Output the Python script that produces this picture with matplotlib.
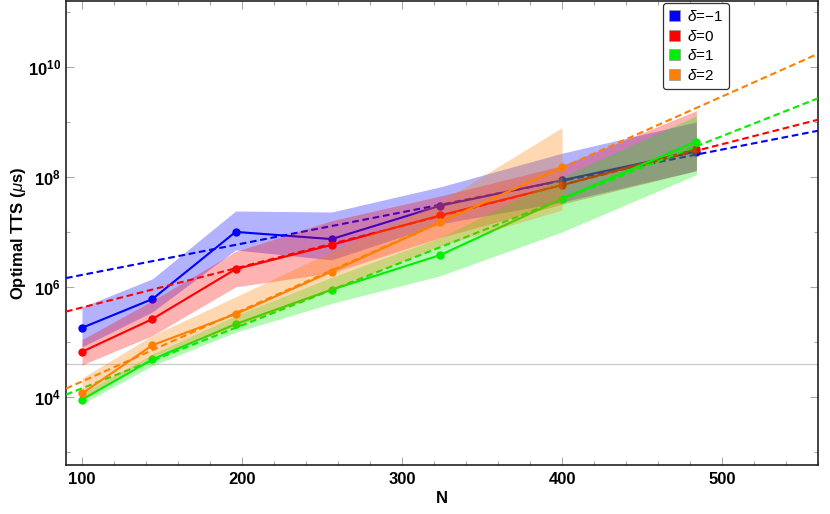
import matplotlib

matplotlib.use("Agg")
import matplotlib.pyplot as plt  # noqa: E402
import numpy as np  # noqa: E402
from matplotlib.patches import Patch  # noqa: E402
from matplotlib.ticker import FixedLocator, NullFormatter  # noqa: E402

plt.rcParams["font.family"] = ["Liberation Sans", "DejaVu Sans"]
plt.rcParams["mathtext.fontset"] = "custom"
plt.rcParams["mathtext.rm"] = "Liberation Sans"
plt.rcParams["mathtext.it"] = "Liberation Sans:italic"
plt.rcParams["mathtext.bf"] = "Liberation Sans:bold"

# размеры задачи N (квадраты 10..22)
n_sizes = [100, 144, 196, 256, 324, 400, 484]

# оптимальный TTS (мкс): медиана и границы полосы
tts_dm1 = [1.8e5, 6.0e5, 1.0e7, 7.4e6, 3.0e7, 8.7e7, 2.9e8]
tts_dm1_hi = [4.3e5, 1.4e6, 2.4e7, 2.3e7, 6.6e7, 2.7e8, 1.0e9]
tts_dm1_lo = [8.1e4, 3.5e5, 4.7e6, 3.1e6, 1.4e7, 3.5e7, 1.3e8]

tts_d0 = [6.6e4, 2.6e5, 2.1e6, 5.8e6, 2.0e7, 7.1e7, 3.2e8]
tts_d0_hi = [1.1e5, 5.6e5, 4.4e6, 1.6e7, 4.5e7, 1.6e8, 1.6e9]
tts_d0_lo = [3.8e4, 1.3e5, 1.0e6, 1.8e6, 7.9e6, 3.2e7, 1.3e8]

tts_d1 = [8.9e3, 4.8e4, 2.1e5, 8.9e5, 3.8e6, 4.0e7, 4.4e8]
tts_d1_hi = [1.15e4, 6.0e4, 3.0e5, 1.5e6, 7.9e6, 1.0e8, 1.3e9]
tts_d1_lo = [7.4e3, 3.7e4, 1.5e5, 5.0e5, 1.6e6, 1.0e7, 1.1e8]

# δ=2 — только до N=400
tts_d2 = [1.15e4, 8.7e4, 3.2e5, 1.9e6, 1.5e7, 1.5e8]
tts_d2_hi = [2.2e4, 1.3e5, 6.6e5, 4.4e6, 3.5e7, 7.9e8]
tts_d2_lo = [9.5e3, 5.4e4, 1.9e5, 8.7e5, 5.6e6, 2.5e7]

# экспоненциальные фиты: log10(TTS) = a + b*N
fit_a = [5.647, 4.882, 3.008, 2.984]
fit_b = [0.005702, 0.007426, 0.011468, 0.012957]

labels = [r"$\delta$=−1", r"$\delta$=0", r"$\delta$=1", r"$\delta$=2"]
colors = ["#0000ff", "#ff0000", "#00ee00", "#ff8000"]

series = [
    (n_sizes, tts_dm1, tts_dm1_lo, tts_dm1_hi),
    (n_sizes, tts_d0, tts_d0_lo, tts_d0_hi),
    (n_sizes, tts_d1, tts_d1_lo, tts_d1_hi),
    (n_sizes[:6], tts_d2, tts_d2_lo, tts_d2_hi),
]

fig = plt.figure(figsize=(8.3, 5.14), dpi=100)
ax = fig.add_axes([66 / 830, 1 - 465 / 514, (818 - 66) / 830, 464 / 514])

ax.axhline(3.9e4, color="#cccccc", lw=1.0, zorder=1)

n_fit = np.linspace(90, 560, 200)
for i, ((n, mid, lo, hi), c) in enumerate(zip(series, colors)):
    z = 2 + 3 * i
    ax.fill_between(n, lo, hi, color=c, alpha=0.3, lw=0, zorder=z)
    ax.plot(n, mid, color=c, lw=1.5, marker="o", ms=5, zorder=z + 1)
    ax.plot(n_fit, 10 ** (fit_a[i] + fit_b[i] * n_fit), color=c, lw=1.5,
            ls=(0, (3.2, 1.8)), zorder=z + 1)

ax.set_yscale("log")
ax.set_xlim(90, 560)
ax.set_ylim(10 ** 2.76, 10 ** 11.2)

ax.yaxis.set_major_locator(FixedLocator([1e4, 1e6, 1e8, 1e10]))
ax.yaxis.set_minor_locator(FixedLocator([1e3, 1e5, 1e7, 1e9, 1e11]))
ax.yaxis.set_minor_formatter(NullFormatter())
ax.set_yticklabels([r"$\mathbf{10^{4}}$", r"$\mathbf{10^{6}}$",
                    r"$\mathbf{10^{8}}$", r"$\mathbf{10^{10}}$"])
ax.xaxis.set_major_locator(FixedLocator([100, 200, 300, 400, 500]))
ax.xaxis.set_minor_locator(FixedLocator([n for n in range(100, 561, 20) if n % 100]))
ax.xaxis.set_minor_formatter(NullFormatter())
ax.set_xticklabels(["100", "200", "300", "400", "500"], fontweight="bold")

ax.tick_params(which="both", direction="in", top=True, right=True,
               color="#aaaaaa", width=0.8, labelsize=12)
ax.tick_params(which="major", length=5.5)
ax.tick_params(which="minor", length=3)
ax.tick_params(axis="x", pad=5)
ax.tick_params(axis="y", pad=3.5)

for s in ax.spines.values():
    s.set_color("#222222")
    s.set_linewidth(1.2)

ax.set_ylabel(r"Optimal TTS ($\mu$s)", fontsize=12, fontweight="bold")
ax.yaxis.set_label_coords(-0.05, 0.5)
ax.set_xlabel("N", fontsize=12, fontweight="bold")
ax.xaxis.set_label_coords(0.5, -0.056)

handles = [Patch(facecolor=c, edgecolor="#999999", lw=0.5) for c in colors]
leg = ax.legend(handles, labels, loc="upper left", bbox_to_anchor=(0.7935, 0.996),
                borderaxespad=0, fontsize=11, handlelength=0.7, handleheight=0.7,
                handletextpad=0.5, labelspacing=0.3, borderpad=0.4,
                fancybox=True, framealpha=1)
leg.get_frame().set_edgecolor("#333333")
leg.get_frame().set_linewidth(0.9)
leg.set_zorder(20)

fig.savefig("out.png", dpi=100)
plt.close(fig)
